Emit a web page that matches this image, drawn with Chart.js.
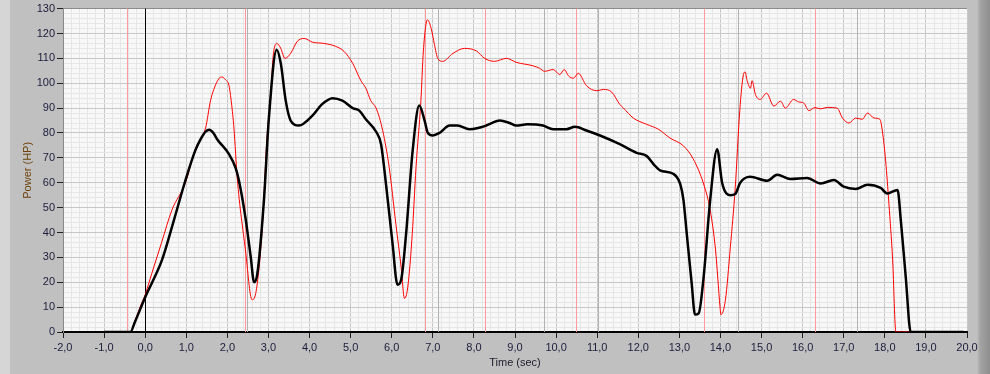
<!DOCTYPE html>
<html>
<head>
  <title>Power vs Time</title>
  <meta charset="utf-8" />
  <script src="https://cdn.jsdelivr.net/npm/chart.js@4/dist/chart.umd.min.js"></script>
  <style>
    html, body {
      margin: 0;
      padding: 0;
    }
    body {
      width: 990px;
      height: 374px;
      overflow: hidden;
      background: linear-gradient(to right, #d6d6d6 0px, #d6d6d6 10px, #c0c0c0 10px, #c0c0c0 977px, #a4a4a4 980px, #8e8e8e 990px);
    }
    canvas {
      display: block;
    }
  </style>
</head>
<body>
  <canvas id="powerChart" width="990" height="374"></canvas>
  <script>
    // black run (thick)
    var blackTime = [-1.0, -0.36, -0.25, -0.1, 0, 0.2, 0.41, 0.7, 0.98, 1.22, 1.35, 1.47, 1.56, 1.66, 1.75, 2.04, 2.2, 2.28, 2.44, 2.57, 2.65, 2.73,
      2.89, 3.01, 3.2, 3.3, 3.42, 3.54, 3.74, 4.07, 4.3, 4.56, 4.8, 5.05, 5.21, 5.37, 5.62, 5.74, 5.86, 6.02, 6.14, 6.23,
      6.35, 6.51, 6.67, 6.8, 6.88, 7.0, 7.16, 7.41, 7.6, 7.89, 8.1, 8.3, 8.63, 8.87, 9.03, 9.3, 9.68, 9.93, 10.25, 10.46,
      10.74, 11.07, 11.55, 11.96, 12.2, 12.37, 12.53, 12.86, 13.02, 13.1, 13.18, 13.3, 13.38, 13.47, 13.59, 13.75, 13.92, 14.04, 14.24, 14.36,
      14.48, 14.72, 15.14, 15.38, 15.7, 16.11, 16.44, 16.76, 17.0, 17.29, 17.58, 17.9, 18.06, 18.31, 18.39, 18.51, 18.63, 19.92];
    var blackPower = [0, 0, 4, 10, 14, 21, 29, 45, 61, 73, 77.5, 80.5, 81.3, 80, 77.5, 71.5, 66, 61, 46, 30, 20, 23.5,
      53, 86, 113.5, 108, 93, 85, 83, 87, 91.5, 94, 93, 90, 89, 85.5, 80.5, 75.5, 59.5, 35.5, 19, 21,
      39.5, 73, 91, 85, 80, 79, 80, 83, 83, 81.5, 82, 83, 85, 84, 83, 83.5, 83, 81.5, 81.5, 82.5,
      81, 79, 75.5, 72, 70.8, 67.5, 65, 63.5, 59.5, 53, 39.5, 19.5, 7, 7.5, 22, 53, 73.5, 60, 55, 55.5,
      60, 62.4, 60.8, 63.2, 61.5, 61.9, 59.7, 61.1, 58.4, 57.5, 59.2, 57.9, 55.7, 57.1, 44.8, 22, 0, 0];

    // red run (thin)
    var redTime = [-1.0, -0.36, -0.25, -0.1, 0, 0.16, 0.4, 0.65, 0.98, 1.22, 1.47, 1.59, 1.67, 1.8, 1.87, 1.95, 2.04, 2.1, 2.16, 2.24,
      2.44, 2.6, 2.69, 2.85, 2.97, 3.05, 3.11, 3.2, 3.3, 3.4, 3.54, 3.7, 3.87, 4.07, 4.35, 4.64, 4.84, 5.05, 5.25, 5.37,
      5.49, 5.62, 5.78, 5.94, 6.1, 6.23, 6.31, 6.39, 6.5, 6.59, 6.71, 6.77, 6.87, 6.96, 7.04, 7.12, 7.24, 7.49, 7.77, 8.06,
      8.26, 8.5, 8.79, 9.03, 9.44, 9.6, 9.72, 9.93, 10.09, 10.2, 10.3, 10.42, 10.54, 10.74, 10.99, 11.15, 11.35, 11.55, 11.64, 11.88,
      12.2, 12.49, 12.77, 13.1, 13.34, 13.59, 13.75, 13.88, 13.99, 14.01, 14.12, 14.24, 14.36, 14.47, 14.56, 14.6, 14.65, 14.73, 14.77, 14.85,
      14.97, 15.12, 15.3, 15.46, 15.58, 15.78, 15.9, 16.03, 16.15, 16.3, 16.44, 16.6, 16.84, 16.97, 17.13, 17.29, 17.45, 17.58, 17.74, 17.88, 17.94, 18.02, 18.1,
      18.19, 18.27, 19.92];
    var redPower = [0, 0, 4.5, 11, 15, 23.5, 36, 49, 60, 73.5, 82, 93, 97.5, 102, 102.5, 101.5, 99, 92, 82, 62,
      33, 13, 15.5, 42, 79.5, 93, 110, 116, 114, 110, 112, 116.8, 118, 116.5, 116, 114.8, 112.8, 108, 101, 98,
      93, 90, 81, 66, 43.5, 26, 13.5, 18, 39.5, 66, 93, 113, 125.5, 122, 115.5, 110, 108.8, 112, 114, 113,
      110, 108.8, 110, 108.4, 107, 106, 104.8, 105.5, 103.5, 105.5, 103, 102, 104, 99, 97, 97.5, 96.5, 91.5, 90, 86,
      83.5, 81.5, 78, 74.8, 69.5, 59.5, 49, 33, 10, 7, 12.8, 34, 58, 89, 103.5, 104.5, 101, 98, 101, 95.5,
      93.5, 96, 90.8, 92.8, 90, 93.5, 92.5, 92, 89, 90.2, 89.7, 90.3, 90, 86, 84, 86, 85.5, 88, 86, 85.5, 80.8, 68.8, 51.5,
      29, 0, 0];

    // cursor / shift markers (sec)
    var redMarks = [-0.44, 2.44, 6.82, 8.28, 10.49, 13.61, 16.31];
    var grayMarks = [2.48, 7.12, 9.71, 11.02, 14.42, 17.33];
    var zeroMark = 0;

    var xMin = -2, xMax = 20, yMin = 0, yMax = 130;

    function toPoints(ts, ps) {
      return ts.map(function(t, i) { return { x: t, y: ps[i] }; });
    }

    function isWhole(v, step) {
      var r = v / step;
      return Math.abs(r - Math.round(r)) < 1e-6;
    }

    var plotDecor = {
      id: 'plotDecor',
      beforeDraw: function(chart) {
        var ctx = chart.ctx, a = chart.chartArea;
        ctx.save();
        ctx.fillStyle = '#f8f8f8';
        ctx.fillRect(a.left, a.top, a.right - a.left, a.bottom - a.top);
        ctx.restore();
      },
      beforeDatasetsDraw: function(chart) {
        var ctx = chart.ctx, a = chart.chartArea, x = chart.scales.x;
        function vline(t, colour) {
          var px = Math.round(x.getPixelForValue(t)) + 0.5;
          ctx.beginPath();
          ctx.moveTo(px, a.top);
          ctx.lineTo(px, a.bottom);
          ctx.strokeStyle = colour;
          ctx.lineWidth = 1;
          ctx.stroke();
        }
        ctx.save();
        grayMarks.forEach(function(t) { vline(t, '#b2b2b2'); });
        redMarks.forEach(function(t) { vline(t, '#ff9a9a'); });
        vline(zeroMark, '#000000');
        ctx.restore();
      }
    };

    var tickFont = { family: "'Liberation Sans', Arial, sans-serif", size: 11 };

    var chart = new Chart(document.getElementById('powerChart'), {
      type: 'line',
      data: {
        datasets: [{
          label: 'Run B',
          data: toPoints(blackTime, blackPower),
          borderColor: '#000000',
          borderWidth: 2.5,
          pointRadius: 0,
          cubicInterpolationMode: 'monotone'
        }, {
          label: 'Run A',
          data: toPoints(redTime, redPower),
          borderColor: '#ff0000',
          borderWidth: 1,
          pointRadius: 0,
          cubicInterpolationMode: 'monotone'
        }]
      },
      options: {
        responsive: false,
        animation: false,
        devicePixelRatio: 1,
        layout: { padding: { top: 7, right: 23, left: 0, bottom: 0 } },
        plugins: {
          legend: { display: false },
          tooltip: { enabled: false }
        },
        scales: {
          x: {
            type: 'linear',
            min: xMin,
            max: xMax,
            afterFit: function(scale) { scale.height = 42; },
            border: { color: '#000000', width: 2 },
            grid: {
              color: function(c) { return c.tick && isWhole(c.tick.value, 1) ? '#c8c8c8' : '#e6e6e6'; },
              tickColor: function(c) { return c.tick && isWhole(c.tick.value, 1) ? '#202020' : 'rgba(0,0,0,0)'; },
              tickLength: 6
            },
            ticks: {
              stepSize: 0.2,
              maxTicksLimit: 500,
              autoSkip: false,
              maxRotation: 0,
              padding: 3,
              color: '#1c1c3c',
              font: tickFont,
              callback: function(v) { return isWhole(v, 1) ? Math.round(v).toFixed(1).replace('.', ',') : ''; }
            },
            title: {
              display: true,
              text: 'Time (sec)',
              color: '#1c1c2c',
              font: tickFont,
              padding: { top: 0, bottom: 4 }
            }
          },
          y: {
            min: yMin,
            max: yMax,
            afterFit: function(scale) { scale.width = 63; },
            border: { color: '#8a8a8a', width: 1 },
            grid: {
              color: function(c) {
                if (!c.tick) return '#e6e6e6';
                if (c.tick.value === yMax) return '#8c8c8c';
                return isWhole(c.tick.value, 10) ? '#c8c8c8' : '#e6e6e6';
              },
              tickColor: function(c) { return c.tick && isWhole(c.tick.value, 10) ? '#202020' : 'rgba(0,0,0,0)'; },
              tickLength: 6
            },
            ticks: {
              stepSize: 2,
              maxTicksLimit: 500,
              autoSkip: false,
              padding: 2,
              color: '#1c1c3c',
              font: tickFont,
              callback: function(v) { return isWhole(v, 10) ? String(Math.round(v)) : ''; }
            },
            title: {
              display: true,
              text: 'Power (HP)',
              color: '#6e420c',
              font: tickFont,
              padding: { top: 21, bottom: 0 }
            }
          }
        }
      },
      plugins: [plotDecor]
    });
  </script>
</body>
</html>
